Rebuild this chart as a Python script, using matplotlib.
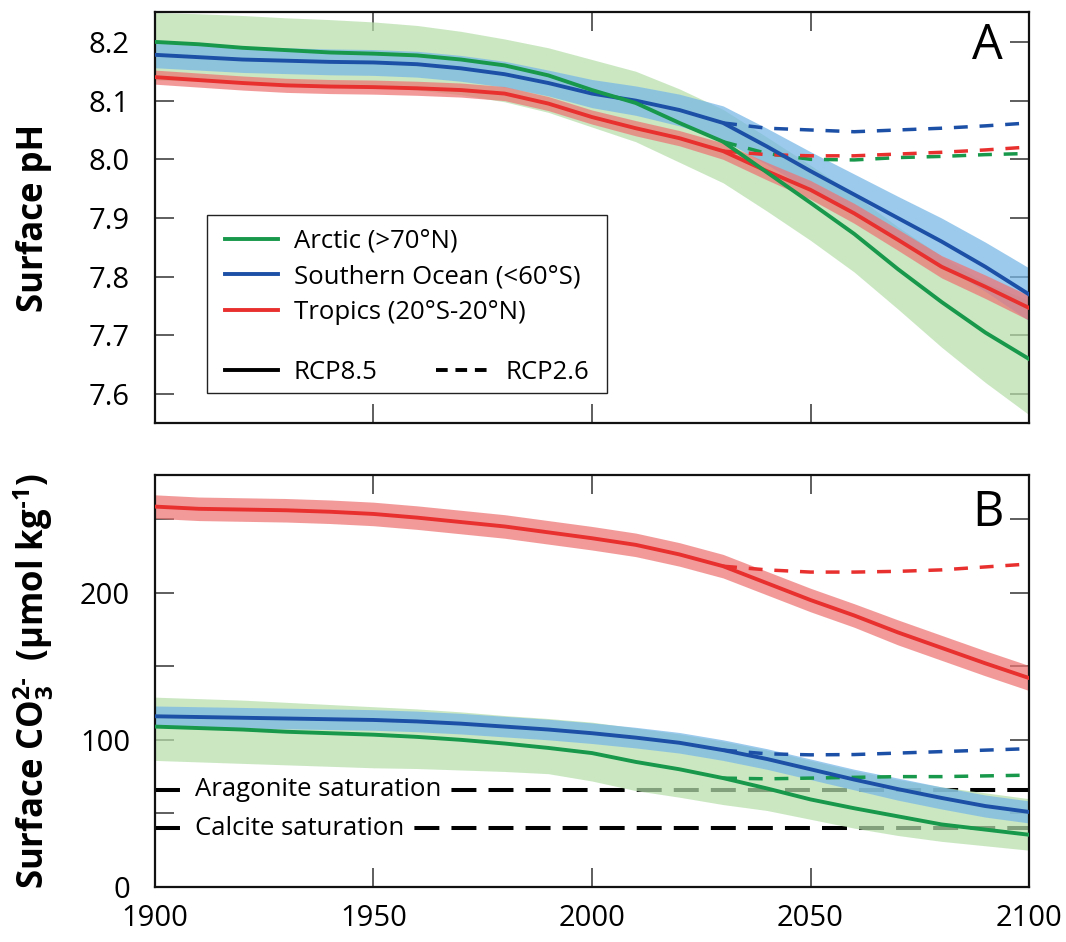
import matplotlib
matplotlib.use("Agg")
import matplotlib.pyplot as plt
from matplotlib.lines import Line2D
from matplotlib.patches import Rectangle

plt.rcParams["font.family"] = ["Open Sans", "DejaVu Sans"]
plt.rcParams["mathtext.fontset"] = "custom"
plt.rcParams["mathtext.rm"] = "Open Sans"
plt.rcParams["mathtext.bf"] = "Open Sans:bold"
plt.rcParams["mathtext.it"] = "Open Sans:italic"

# ---------------------------------------------------------------- data
years = [1900, 1910, 1920, 1930, 1940, 1950, 1960, 1970, 1980, 1990, 2000,
         2010, 2020, 2030, 2040, 2050, 2060, 2070, 2080, 2090, 2100]
years_rcp26 = [2030, 2040, 2050, 2060, 2070, 2080, 2090, 2100]

# Surface pH, RCP8.5 ensemble mean and spread
ph_arctic = [8.200, 8.196, 8.190, 8.186, 8.182, 8.180, 8.177, 8.170, 8.160, 8.143, 8.118,
             8.096, 8.062, 8.030, 7.978, 7.926, 7.873, 7.813, 7.757, 7.705, 7.660]
ph_arctic_hi = [8.250, 8.248, 8.245, 8.241, 8.238, 8.234, 8.228, 8.218, 8.205, 8.190, 8.170,
                8.150, 8.120, 8.085, 8.038, 7.990, 7.940, 7.885, 7.835, 7.790, 7.760]
ph_arctic_lo = [8.135, 8.133, 8.130, 8.128, 8.126, 8.123, 8.118, 8.110, 8.098, 8.080, 8.055,
                8.030, 7.995, 7.960, 7.912, 7.862, 7.808, 7.745, 7.680, 7.620, 7.565]

ph_south = [8.178, 8.174, 8.170, 8.168, 8.166, 8.165, 8.162, 8.155, 8.145, 8.130, 8.112,
            8.100, 8.084, 8.062, 8.022, 7.980, 7.940, 7.900, 7.860, 7.817, 7.770]
ph_south_hi = [8.200, 8.196, 8.192, 8.190, 8.188, 8.187, 8.184, 8.177, 8.167, 8.152, 8.136,
               8.125, 8.111, 8.091, 8.053, 8.013, 7.975, 7.937, 7.900, 7.859, 7.815]
ph_south_lo = [8.156, 8.152, 8.148, 8.146, 8.144, 8.143, 8.140, 8.133, 8.123, 8.108, 8.088,
               8.075, 8.057, 8.033, 7.991, 7.947, 7.905, 7.863, 7.820, 7.775, 7.725]

ph_tropics = [8.140, 8.135, 8.130, 8.126, 8.124, 8.123, 8.121, 8.118, 8.112, 8.095, 8.072,
              8.053, 8.036, 8.014, 7.980, 7.948, 7.908, 7.863, 7.817, 7.783, 7.747]
ph_tropics_hi = [8.152, 8.147, 8.142, 8.138, 8.136, 8.135, 8.133, 8.130, 8.124, 8.107, 8.084,
                 8.066, 8.049, 8.028, 7.995, 7.964, 7.925, 7.881, 7.836, 7.803, 7.768]
ph_tropics_lo = [8.128, 8.123, 8.118, 8.114, 8.112, 8.111, 8.109, 8.106, 8.100, 8.083, 8.060,
                 8.040, 8.023, 8.000, 7.965, 7.932, 7.891, 7.845, 7.798, 7.763, 7.726]

# Surface pH, RCP2.6 ensemble mean
ph26_arctic = [8.030, 8.010, 8.000, 7.999, 8.003, 8.005, 8.008, 8.010]
ph26_south = [8.062, 8.053, 8.050, 8.047, 8.050, 8.053, 8.057, 8.062]
ph26_tropics = [8.014, 8.008, 8.006, 8.006, 8.009, 8.012, 8.016, 8.021]

# Surface carbonate ion (umol/kg), RCP8.5 ensemble mean and spread
co3_tropics = [258.5, 257.0, 256.5, 256.0, 255.0, 253.5, 251.0, 248.0, 245.0, 241.0, 237.0,
               232.5, 226.0, 218.0, 206.5, 195.0, 184.5, 173.0, 162.5, 152.0, 142.0]
co3_tropics_hi = [266.5, 265.0, 264.5, 264.0, 263.0, 261.5, 259.0, 256.0, 253.0, 249.0, 245.0,
                  240.5, 234.0, 226.0, 214.5, 203.0, 192.5, 181.5, 171.0, 160.5, 150.5]
co3_tropics_lo = [250.5, 249.0, 248.5, 248.0, 247.0, 245.5, 243.0, 240.0, 237.0, 233.0, 229.0,
                  224.5, 218.0, 210.0, 198.5, 187.0, 176.5, 164.5, 154.0, 143.5, 133.5]

co3_south = [116.0, 115.5, 115.0, 114.5, 114.0, 113.5, 112.5, 111.0, 109.0, 107.0, 104.5,
             101.5, 98.0, 93.0, 87.0, 80.0, 73.0, 66.5, 60.5, 55.0, 51.0]
co3_south_hi = [123.0, 122.5, 122.0, 121.5, 121.0, 120.5, 119.5, 118.0, 116.0, 114.0, 111.5,
                108.5, 105.0, 100.0, 94.0, 87.0, 80.0, 74.0, 68.0, 62.5, 58.5]
co3_south_lo = [109.0, 108.5, 108.0, 107.5, 107.0, 106.5, 105.5, 104.0, 102.0, 100.0, 97.5,
                94.5, 91.0, 86.0, 80.0, 73.0, 66.0, 59.0, 53.0, 47.5, 43.5]

co3_arctic = [109.0, 108.0, 107.0, 105.5, 104.5, 103.5, 102.0, 100.0, 97.5, 94.5, 91.0,
              85.0, 80.0, 74.0, 67.0, 59.5, 53.5, 48.0, 42.5, 39.0, 35.5]
co3_arctic_hi = [129.0, 128.0, 127.0, 125.5, 124.0, 122.5, 121.0, 119.0, 116.5, 114.5, 112.0,
                 108.0, 104.0, 99.0, 93.0, 86.0, 79.0, 73.0, 68.0, 64.0, 60.0]
co3_arctic_lo = [86.0, 85.0, 84.0, 83.0, 82.0, 81.0, 80.5, 79.5, 78.5, 77.0, 72.0,
                 65.5, 61.0, 56.0, 52.0, 46.0, 40.0, 35.0, 31.0, 28.0, 25.0]

# Surface carbonate ion, RCP2.6 ensemble mean
co3_26_tropics = [218.0, 215.5, 214.0, 214.0, 214.5, 215.5, 217.5, 219.5]
co3_26_south = [93.0, 90.5, 89.8, 90.0, 91.0, 92.0, 93.0, 94.0]
co3_26_arctic = [74.0, 73.5, 74.0, 74.5, 75.0, 75.0, 75.5, 76.0]

aragonite_saturation = 66.0
calcite_saturation = 40.0

region_labels = ["Arctic (>70°N)", "Southern Ocean (<60°S)", "Tropics (20°S-20°N)"]
scenario_labels = ["RCP8.5", "RCP2.6"]
x_ticks = [1900, 1950, 2000, 2050, 2100]
ph_ticks = [7.6, 7.7, 7.8, 7.9, 8.0, 8.1, 8.2]
co3_ticks = [0, 50, 100, 150, 200, 250]
co3_ticklabels = ["0", "", "100", "", "200", ""]

# ---------------------------------------------------------------- style
line_colors = ["#17984a", "#1c4fa6", "#e8302f"]
band_colors = ["#b6dfab", "#76b6e6", "#ee7474"]
band_alpha = 0.72
lw_main = 2.8
lw_dash = 2.5
dash_26 = (4.0, 3.4)

fig = plt.figure(figsize=(10.66, 9.42), dpi=100)
axA = fig.add_axes([0.1454, 0.5510, 0.8199, 0.4363])
axB = fig.add_axes([0.1454, 0.0584, 0.8199, 0.4374])


def draw_panel(ax, means, lows, highs, rcp26):
    for lo, hi, c in zip(lows, highs, band_colors):
        ax.fill_between(years, lo, hi, color=c, alpha=band_alpha, lw=0, zorder=2)
    for y26, c in zip(rcp26, line_colors):
        ax.plot(years_rcp26, y26, color=c, lw=lw_dash, dashes=dash_26,
                solid_capstyle="butt", zorder=3)
    for i in (2, 1, 0):
        ax.plot(years, means[i], color=line_colors[i], lw=lw_main, zorder=4)


draw_panel(axA,
           [ph_arctic, ph_south, ph_tropics],
           [ph_arctic_lo, ph_south_lo, ph_tropics_lo],
           [ph_arctic_hi, ph_south_hi, ph_tropics_hi],
           [ph26_arctic, ph26_south, ph26_tropics])
draw_panel(axB,
           [co3_arctic, co3_south, co3_tropics],
           [co3_arctic_lo, co3_south_lo, co3_tropics_lo],
           [co3_arctic_hi, co3_south_hi, co3_tropics_hi],
           [co3_26_arctic, co3_26_south, co3_26_tropics])

# saturation thresholds sit beneath the translucent spread bands
for level, name in [(aragonite_saturation, "Aragonite saturation"),
                    (calcite_saturation, "Calcite saturation")]:
    axB.plot([1900, 2100], [level, level], color="black", lw=2.9,
             dashes=(6.2, 3.0), dash_capstyle="butt", zorder=1)
    axB.text(0.0458, level, name, transform=axB.get_yaxis_transform(),
             fontsize=18.5, ha="left", va="center", zorder=5,
             bbox=dict(facecolor="white", edgecolor="none", pad=3.0))

for ax in (axA, axB):
    ax.set_xlim(1900, 2100)
    ax.set_xticks(x_ticks)
    ax.tick_params(direction="in", length=13.5, width=1.1, color="#333333",
                   top=True, right=True, labelsize=21)
    ax.tick_params(axis="y", pad=18)
    ax.tick_params(axis="x", pad=12)
    for sp in ax.spines.values():
        sp.set_linewidth(1.6)
        sp.set_color("#111111")

axA.set_ylim(7.551, 8.251)
axA.set_yticks(ph_ticks)
axA.set_yticklabels([f"{v:.1f}" for v in ph_ticks])
axA.tick_params(axis="x", labelbottom=False)
axA.set_ylabel("Surface pH", fontsize=25, fontweight="bold")
axA.yaxis.set_label_coords(-0.118, 0.5)

axB.set_ylim(0, 280)
axB.set_yticks(co3_ticks)
axB.set_yticklabels(co3_ticklabels)
axB.set_xticklabels([str(v) for v in x_ticks])
axB.set_ylabel("Surface CO$_\\mathbf{3}^\\mathbf{2\u2010}$\u2009 (µmol kg$^\\mathbf{\u20101}$)",
               fontsize=25, fontweight="bold")
axB.yaxis.set_label_coords(-0.114, 0.5)

axA.text(0.952, 0.917, "A", transform=axA.transAxes, fontsize=35,
         ha="center", va="center")
axB.text(0.953, 0.908, "B", transform=axB.transAxes, fontsize=35,
         ha="center", va="center")

# legend: framed box holding regions and scenario line styles
axA.add_patch(Rectangle((0.0595, 0.073), 0.4577, 0.433, transform=axA.transAxes,
                        facecolor="white", edgecolor="#222222", lw=1.0, zorder=6))
region_handles = [Line2D([], [], color=c, lw=lw_main) for c in line_colors]
leg1 = axA.legend(region_handles, region_labels, loc="upper left",
                  bbox_to_anchor=(0.080, 0.472), frameon=False, fontsize=18.5,
                  handlelength=2.05, handletextpad=0.62, labelspacing=0.40,
                  borderpad=0, borderaxespad=0)
leg1.set_zorder(7)
axA.add_artist(leg1)
scen_handles = [Line2D([], [], color="black", lw=lw_main),
                Line2D([], [], color="black", lw=lw_main, dashes=(3.0, 2.0))]
leg2 = axA.legend(scen_handles, scenario_labels, loc="upper left",
                  bbox_to_anchor=(0.080, 0.152), frameon=False, fontsize=18.5,
                  ncol=2, handlelength=2.05, handletextpad=0.62,
                  columnspacing=2.3, borderpad=0, borderaxespad=0)
leg2.set_zorder(7)

fig.savefig("out.png", dpi=100)
